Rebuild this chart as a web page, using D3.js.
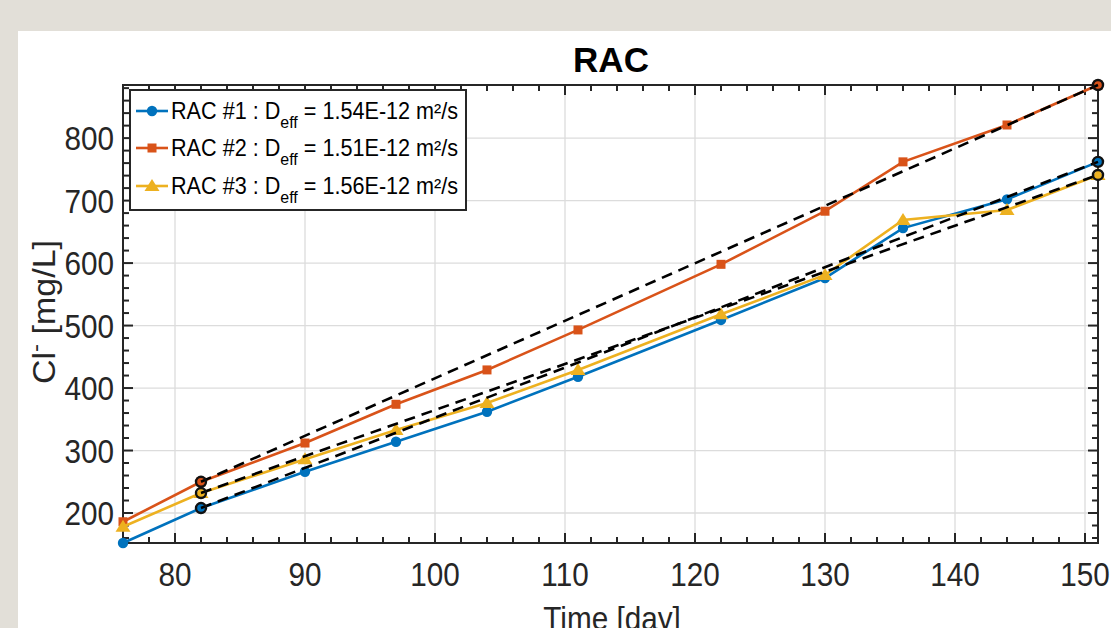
<!DOCTYPE html>
<html><head><meta charset="utf-8">
<script src="https://cdn.jsdelivr.net/npm/d3@7"></script>
<style>
html,body{margin:0;padding:0;background:#e2dfd8;}
svg{display:block;}
text{font-family:"Liberation Sans",Arial,Helvetica,sans-serif;}
</style></head>
<body>
<svg id="chart" width="1111" height="628"></svg>
<script>
// ---- data ----
const days = [76, 82, 90, 97, 104, 111, 122, 130, 136, 144, 151];
const rac1 = [152, 208, 266, 314, 362, 418, 509, 576, 656, 702, 762];
const rac2 = [186, 250, 312, 374, 429, 493, 598, 683, 762, 821, 885];
const rac3 = [178, 232, 286, 333, 376, 429, 518, 581, 669, 685, 741];
const fitDays = [82, 151];
const fit1 = [208, 762];
const fit2 = [250, 885];
const fit3 = [232, 741];
const seriesNames = ["RAC #1", "RAC #2", "RAC #3"];
const deffValues = ["1.54E-12", "1.51E-12", "1.56E-12"];
const xTicks = [80, 90, 100, 110, 120, 130, 140, 150];
const yTicks = [200, 300, 400, 500, 600, 700, 800];

const colors = ["#0072BD", "#D95319", "#EDB120"];
const markers = ["circle", "square", "triangle"];

const svg = d3.select("#chart");
svg.append("rect").attr("x", 18).attr("y", 31).attr("width", 1111 - 18).attr("height", 628 - 31).attr("fill", "#ffffff");

const L = 123, R = 1098, T = 85, B = 543;
const x = d3.scaleLinear().domain([76, 151]).range([L, R]);
const y = d3.scaleLinear().domain([152, 885]).range([B, T]);

const axisColor = "#262626";
const SX = 0.9; // horizontal squeeze of the reference's text

// grid
const g = svg.append("g");
g.selectAll(".gx").data(xTicks).join("line")
  .attr("x1", d => x(d)).attr("x2", d => x(d)).attr("y1", T).attr("y2", B)
  .attr("stroke", "#dcdcdc").attr("stroke-width", 1.3);
g.selectAll(".gy").data(yTicks).join("line")
  .attr("y1", d => y(d)).attr("y2", d => y(d)).attr("x1", L).attr("x2", R)
  .attr("stroke", "#dcdcdc").attr("stroke-width", 1.3);

// ticks (inward)
const xMinor = d3.range(76, 151.01, 2).filter(v => !xTicks.includes(v));
const yMinor = d3.range(160, 885, 20).filter(v => !yTicks.includes(v));
const tk = svg.append("g").attr("stroke", axisColor).attr("stroke-width", 2);
function xt(vals, len) {
  vals.forEach(v => {
    tk.append("line").attr("x1", x(v)).attr("x2", x(v)).attr("y1", B).attr("y2", B - len);
    tk.append("line").attr("x1", x(v)).attr("x2", x(v)).attr("y1", T).attr("y2", T + len);
  });
}
function yt(vals, len) {
  vals.forEach(v => {
    tk.append("line").attr("y1", y(v)).attr("y2", y(v)).attr("x1", L).attr("x2", L + len);
    tk.append("line").attr("y1", y(v)).attr("y2", y(v)).attr("x1", R).attr("x2", R - len);
  });
}
xt(xTicks, 10); xt(xMinor, 6);
yt(yTicks, 10); yt(yMinor, 6);

svg.append("rect").attr("x", L).attr("y", T).attr("width", R - L).attr("height", B - T)
  .attr("fill", "none").attr("stroke", axisColor).attr("stroke-width", 2);

// tick labels
svg.selectAll(".xl").data(xTicks).join("text")
  .attr("transform", d => `translate(${x(d)},${B + 43}) scale(${SX},1)`).attr("text-anchor", "middle")
  .attr("font-size", 33).attr("fill", axisColor).text(d => d);
svg.selectAll(".yl").data(yTicks).join("text")
  .attr("transform", d => `translate(${L - 9},${y(d) + 12}) scale(${SX},1)`).attr("text-anchor", "end")
  .attr("font-size", 33).attr("fill", axisColor).text(d => d);

// axis labels
svg.append("text").attr("transform", `translate(612,630) scale(${SX},1)`).attr("text-anchor", "middle")
  .attr("font-size", 33).attr("fill", axisColor).text("Time [day]");
const yl = svg.append("text").attr("transform", `translate(55,312) rotate(-90) scale(1,${SX})`)
  .attr("text-anchor", "middle").attr("font-size", 34).attr("fill", axisColor);
yl.append("tspan").text("Cl");
yl.append("tspan").attr("dy", -13).attr("font-size", 24).text("-");
yl.append("tspan").attr("dy", 13).text(" [mg/L]");

// title
svg.append("text").attr("x", 611).attr("y", 72).attr("text-anchor", "middle")
  .attr("font-size", 35).attr("font-weight", "bold").attr("fill", "#000")
  .text("RAC");

function drawMarker(sel, type, cx, cy, color) {
  if (type === "circle") {
    sel.append("circle").attr("cx", cx).attr("cy", cy).attr("r", 5.2).attr("fill", color);
  } else if (type === "square") {
    sel.append("rect").attr("x", cx - 4.5).attr("y", cy - 4.5).attr("width", 9).attr("height", 9).attr("fill", color);
  } else {
    sel.append("path").attr("d", `M${cx},${cy - 7}L${cx + 7.5},${cy + 5}L${cx - 7.5},${cy + 5}Z`).attr("fill", color);
  }
}

const series = [rac1, rac2, rac3];
const fits = [fit1, fit2, fit3];
const line = d3.line().x(d => x(d[0])).y(d => y(d[1]));
const plot = svg.append("g");
series.forEach((s, i) => {
  const pts = days.map((d, j) => [d, s[j]]);
  plot.append("path").attr("d", line(pts)).attr("fill", "none")
    .attr("stroke", colors[i]).attr("stroke-width", 2.6);
  pts.forEach(p => drawMarker(plot, markers[i], x(p[0]), y(p[1]), colors[i]));
});
fits.forEach((f, i) => {
  const pts = fitDays.map((d, j) => [d, f[j]]);
  plot.append("path").attr("d", line(pts)).attr("fill", "none")
    .attr("stroke", "#000").attr("stroke-width", 2.6).attr("stroke-dasharray", "11,7");
  pts.forEach(p => plot.append("circle").attr("cx", x(p[0])).attr("cy", y(p[1])).attr("r", 5)
    .attr("fill", "none").attr("stroke", "#111").attr("stroke-width", 2.4));
});

// legend
const lg = svg.append("g");
lg.append("rect").attr("x", 130).attr("y", 90).attr("width", 336).attr("height", 120)
  .attr("fill", "#fff").attr("stroke", axisColor).attr("stroke-width", 2);
const rowY = [111, 148, 186];
seriesNames.forEach((n, i) => {
  const cy = rowY[i];
  lg.append("line").attr("x1", 136).attr("x2", 168).attr("y1", cy).attr("y2", cy)
    .attr("stroke", colors[i]).attr("stroke-width", 2.6);
  drawMarker(lg, markers[i], 152, cy, colors[i]);
  const t = lg.append("text").attr("transform", `translate(171,${cy + 8}) scale(0.94,1)`)
    .attr("font-size", 23).attr("fill", "#000");
  t.append("tspan").text(n + " : D");
  t.append("tspan").attr("dy", 9).attr("font-size", 17).text("eff");
  t.append("tspan").attr("dy", -9).text(" = " + deffValues[i] + " m²/s");
});
</script>
</body></html>
